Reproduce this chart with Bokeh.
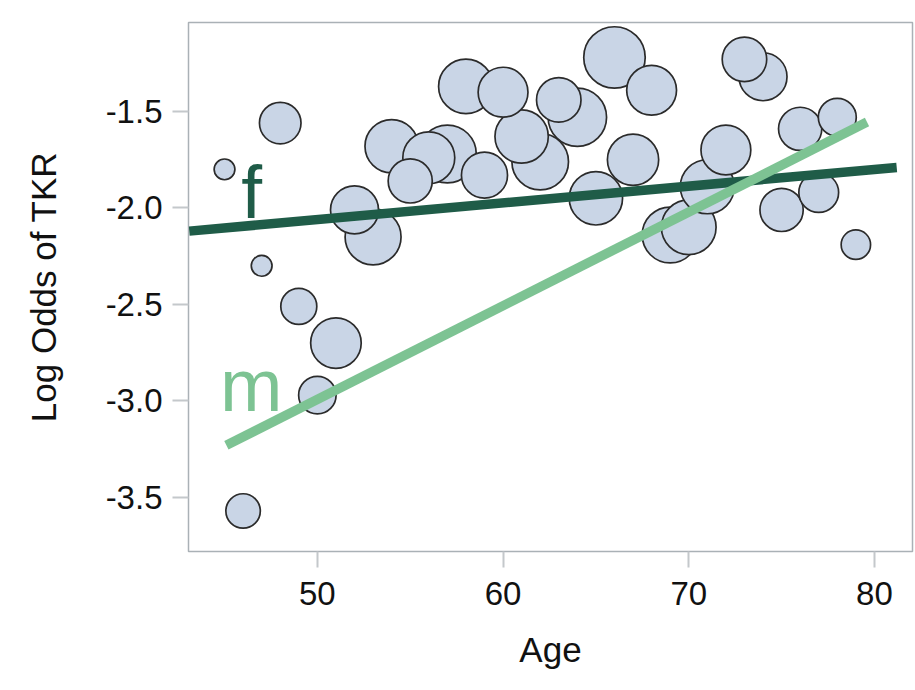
import numpy as np
from bokeh.plotting import figure
from bokeh.models import ColumnDataSource, FixedTicker, PrintfTickFormatter, Range1d
from bokeh.core.properties import value
from bokeh.embed import file_html
from bokeh.resources import INLINE

# ---- data ----
age = [45, 46, 47, 48, 49, 50, 51, 52, 53, 54, 55, 56, 57, 58, 59, 60, 61,
       62, 63, 64, 65, 66, 67, 68, 69, 70, 71, 72, 73, 74, 75, 76, 77, 78, 79]
log_odds = [-1.80, -3.57, -2.30, -1.56, -2.51, -2.97, -2.70, -2.01, -2.15,
            -1.68, -1.86, -1.74, -1.72, -1.37, -1.83, -1.40, -1.63, -1.76,
            -1.44, -1.53, -1.95, -1.22, -1.75, -1.39, -2.14, -2.10, -1.89,
            -1.70, -1.23, -1.32, -2.01, -1.59, -1.92, -1.53, -2.19]
n_subjects = [12, 33, 12, 48, 36, 39, 71, 64, 87, 79, 54, 75, 93, 83, 59,
              69, 79, 89, 55, 95, 79, 105, 73, 69, 87, 83, 81, 69, 55, 64,
              52, 52, 44, 40, 24]

# fitted lines by sex
f_age = [43.1, 81.2]
f_fit = [-2.12, -1.79]
m_age = [45.1, 79.6]
m_fit = [-3.23, -1.555]

x_ticks = [50, 60, 70, 80]
y_ticks = [-3.5, -3.0, -2.5, -2.0, -1.5]

FONT = "Liberation Sans"
F_COL = "#1f5c48"
M_COL = "#7dc393"

order = np.argsort(n_subjects)[::-1]
src = ColumnDataSource(dict(
    x=[age[i] for i in order],
    y=[log_odds[i] for i in order],
    sz=[6.0 * np.sqrt(n_subjects[i]) for i in order],
))

p = figure(width=915, height=690, output_backend="svg", toolbar_location=None,
           x_range=Range1d(43.06, 82.05), y_range=Range1d(-3.78, -1.039),
           min_border_left=188, min_border_right=3, min_border_top=22,
           min_border_bottom=139)
p.background_fill_color = "white"
p.border_fill_color = "white"
p.outline_line_color = "#aab1b6"
p.outline_line_width = 1.5
p.xgrid.visible = False
p.ygrid.visible = False

p.scatter("x", "y", size="sz", source=src, fill_color="#c9d5e6",
          line_color="#2b2b2b", line_width=1.7)

p.line(f_age, f_fit, line_color=F_COL, line_width=9.5, line_cap="butt")
p.line(m_age, m_fit, line_color=M_COL, line_width=9.5, line_cap="butt")

p.text(x=[45.9], y=[-1.915], text=["f"], text_color=F_COL,
       text_font=value(FONT), text_font_size="75px", text_baseline="alphabetic")
p.text(x=[44.75], y=[-2.915], text=["m"], text_color=M_COL,
       text_font=value(FONT), text_font_size="75px", text_baseline="alphabetic")

for ax in (p.xaxis[0], p.yaxis[0]):
    ax.axis_line_color = None
    ax.major_tick_line_color = "#c4c8cb"
    ax.major_tick_line_width = 2
    ax.major_tick_out = 16
    ax.major_tick_in = 0
    ax.minor_tick_line_color = None
    ax.major_label_text_font = FONT
    ax.major_label_text_font_size = "33px"
    ax.major_label_text_color = "#111111"
    ax.axis_label_text_font = FONT
    ax.axis_label_text_font_size = "35px"
    ax.axis_label_text_font_style = "normal"
    ax.axis_label_text_color = "#111111"

p.xaxis.ticker = FixedTicker(ticks=x_ticks)
p.yaxis.ticker = FixedTicker(ticks=y_ticks)
p.yaxis.formatter = PrintfTickFormatter(format="%.1f")
p.xaxis.axis_label = "Age"
p.yaxis.axis_label = "Log Odds of TKR"
p.xaxis.major_label_standoff = 14
p.xaxis.axis_label_standoff = 22
p.yaxis.major_label_standoff = 10
p.yaxis.axis_label_standoff = 40

open("out.html", "w").write(file_html(p, INLINE))
